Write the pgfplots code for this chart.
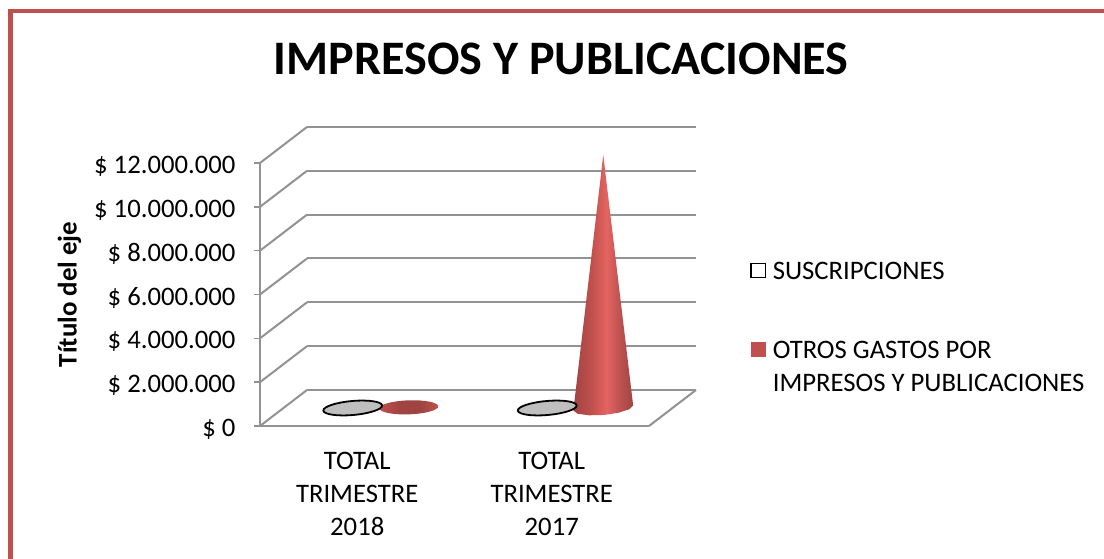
\documentclass[border=0pt]{standalone}
\usepackage{pgfplots}
\pgfplotsset{compat=1.18}
\usepackage{fontspec}
\setmainfont{Carlito}
\definecolor{frame}{HTML}{C0504D}
\definecolor{wall}{HTML}{929292}
\definecolor{ellgray}{HTML}{BFBFBF}
\definecolor{conehi}{HTML}{E46462}
\definecolor{conedk}{HTML}{A04442}
\pgfdeclarehorizontalshading{redcone}{100bp}{
  color(0bp)=(conedk);
  color(25bp)=(conedk);
  color(40bp)=(frame);
  color(53bp)=(conehi);
  color(62bp)=(conehi!85!black);
  color(75bp)=(conedk);
  color(100bp)=(conedk)}
\pgfdeclarehorizontalshading{redflat}{100bp}{
  color(0bp)=(frame);
  color(25bp)=(frame);
  color(42bp)=(conedk);
  color(60bp)=(conedk);
  color(75bp)=(frame);
  color(100bp)=(frame)}
\pgfdeclareplotmark{baseell}{%
  \pgftransformrotate{5}%
  \pgfpathellipse{\pgfpointorigin}{\pgfqpoint{29.5pt}{0pt}}{\pgfqpoint{0pt}{7pt}}%
  \pgfusepathqfillstroke}
\pgfdeclareplotmark{flatell}{%
  \pgftransformrotate{2}%
  \pgfpathellipse{\pgfpointorigin}{\pgfqpoint{29.5pt}{0pt}}{\pgfqpoint{0pt}{7pt}}%
  \pgfshadepath{redflat}{0}\pgfusepath{discard}}
\newcommand{\sidewall}[2]{\addplot[wallline,forget plot] coordinates {(-0.5,#1) (-0.2584,#2)};}
\begin{document}
\begin{tikzpicture}[x=1pt,y=1pt]
\path[use as bounding box] (-260,-133) rectangle (844,426);
\fill[white] (-260,-133) rectangle (844,426);
\begin{axis}[
  scale only axis,width=389pt,height=263pt,
  xmin=-0.5,xmax=1.5,ymin=0,ymax=12000000,
  clip=false,
  scaled y ticks=false,
  axis lines*=left,
  axis line style={draw=wall,line width=2pt},
  wallline/.style={draw=wall,line width=2pt,no markers},
  xtick={0,1},
  xticklabels={{TOTAL\\TRIMESTRE\\2018},{TOTAL\\TRIMESTRE\\2017}},
  xticklabel style={align=center,font=\fontsize{26.7}{33}\selectfont,yshift=-17pt},
  xtick style={draw=none},
  ytick={0,2000000,4000000,6000000,8000000,10000000,12000000},
  yticklabels={\$ 0,\$ 2.000.000,\$ 4.000.000,\$ 6.000.000,\$ 8.000.000,\$ 10.000.000,\$ 12.000.000},
  yticklabel style={font=\fontsize{26.7}{30}\selectfont,xshift=-15pt,yshift=-3pt},
  ytick style={draw=wall,line width=1.6pt},
  tick align=outside,
  major tick length=6pt,
  ylabel={Título del eje},
  every axis y label/.style={at={(axis description cs:-0.49,0.5)},rotate=90,anchor=center,font=\bfseries\fontsize{26.9}{30}\selectfont},
  title={IMPRESOS Y PUBLICACIONES},
  title style={at={(axis description cs:0.774,1.373)},anchor=center,font=\bfseries\fontsize{48.1}{54}\selectfont},
  legend style={draw=none,fill=none,at={(axis cs:2.021,7893000)},anchor=north west,
    font=\fontsize{26.7}{33}\selectfont,inner sep=0pt,outer sep=0pt,
    row sep=57pt,
    cells={anchor=west,align=left}},
  legend cell align=left,
]
% back wall gridlines
\addplot[wallline,forget plot,xshift=47pt,yshift=36pt] coordinates {(-0.5,0) (1.5,0)};
\addplot[wallline,forget plot,xshift=47pt,yshift=36pt] coordinates {(-0.5,2000000) (1.5,2000000)};
\addplot[wallline,forget plot,xshift=47pt,yshift=36pt] coordinates {(-0.5,4000000) (1.5,4000000)};
\addplot[wallline,forget plot,xshift=47pt,yshift=36pt] coordinates {(-0.5,6000000) (1.5,6000000)};
\addplot[wallline,forget plot,xshift=47pt,yshift=36pt] coordinates {(-0.5,8000000) (1.5,8000000)};
\addplot[wallline,forget plot,xshift=47pt,yshift=36pt] coordinates {(-0.5,10000000) (1.5,10000000)};
\addplot[wallline,forget plot,xshift=47pt,yshift=36pt] coordinates {(-0.5,12000000) (1.5,12000000)};
% side wall and floor
\sidewall{0}{1642586}
\sidewall{2000000}{3642586}
\sidewall{4000000}{5642586}
\sidewall{6000000}{7642586}
\sidewall{8000000}{9642586}
\sidewall{10000000}{11642586}
\sidewall{12000000}{13642586}
\addplot[wallline,forget plot] coordinates {(1.5,0) (1.7416,1642586)};
% OTROS GASTOS 2018 (flat cone)
\addplot[forget plot,only marks,mark=flatell,xshift=23.5pt,yshift=18pt] coordinates {(0.144,30000)};
% SUSCRIPCIONES
\addplot[only marks,mark=baseell,xshift=23.5pt,yshift=18pt,
  mark options={draw=black,line width=1.8pt,fill=ellgray},
  legend image code/.code={\draw[black,line width=1.5pt,fill=white] (0.5pt,-24.5pt) rectangle (15pt,-10.5pt);\path (20pt,0pt);}]
  coordinates {(-0.144,0) (0.856,0)};
\addlegendentry{SUSCRIPCIONES}
% OTROS GASTOS 2017 (cone)
\addplot[draw=none,shade,shading=redcone,xshift=23.5pt,yshift=18pt,
  legend image code/.code={\pgfsetfillcolor{frame}\pgfpathrectangle{\pgfqpoint{0pt}{-7.5pt}}{\pgfqpoint{15pt}{15pt}}\pgfusepath{fill}\path (20pt,0pt);}]
  coordinates {(1.144,11540000) (1.2977,118600) (1.2787,-54750) (1.2237,-214450) (1.1471,-318000)
   (1.0700,-333080) (1.0124,-262360) (0.9903,-118600)} -- cycle;
\addlegendentry{OTROS GASTOS POR\\IMPRESOS Y PUBLICACIONES}
\end{axis}
\fill[frame] (-251.7,-133) rectangle (-246.7,416.7);
\fill[frame] (-251.7,416.7) rectangle (844,413.3);
\end{tikzpicture}
\end{document}
